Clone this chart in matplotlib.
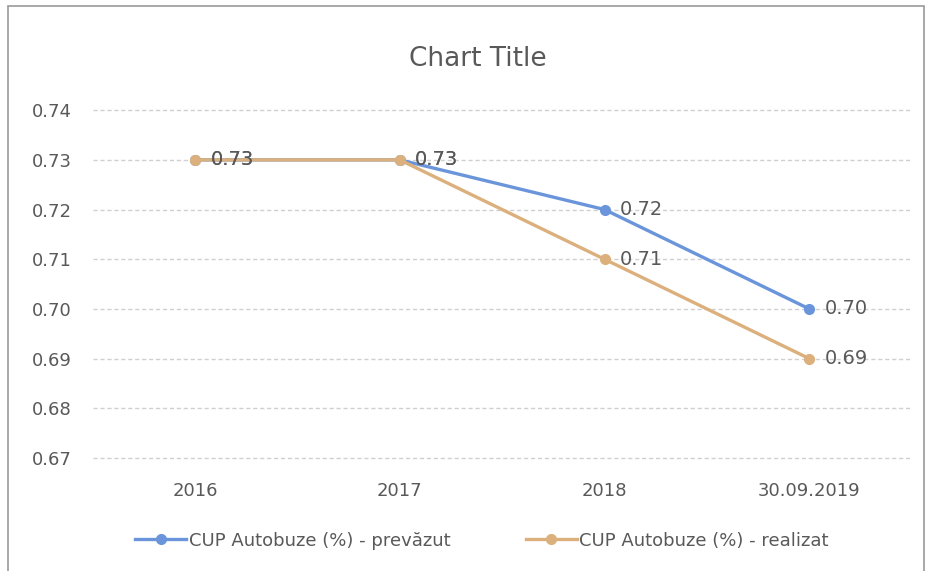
import matplotlib.pyplot as plt
from matplotlib.patches import Rectangle

categories = ["2016", "2017", "2018", "30.09.2019"]
prevazut = [0.73, 0.73, 0.72, 0.70]
realizat = [0.73, 0.73, 0.71, 0.69]
y_ticks = [0.67, 0.68, 0.69, 0.70, 0.71, 0.72, 0.73, 0.74]

BLUE = "#6a95da"
TAN = "#dcb07c"
GRAY = "#595959"

plt.rcParams["font.family"] = ["DejaVu Sans"]

fig = plt.figure(figsize=(9.36, 5.71), dpi=100)
fig.patches.append(Rectangle((8 / 936, -0.01), 916 / 936, 1.0, transform=fig.transFigure,
                             fill=False, edgecolor="#9a9a9a", linewidth=1.2))
ax = fig.add_axes([0.099, 0.198, 0.875, 0.609])

x = list(range(len(categories)))
ax.plot(x, prevazut, color=BLUE, linewidth=2.4, marker="o", markersize=7,
        label="CUP Autobuze (%) - prevăzut", zorder=3)
ax.plot(x, realizat, color=TAN, linewidth=2.4, marker="o", markersize=7,
        label="CUP Autobuze (%) - realizat", zorder=4)

for xi, v in zip(x, prevazut):
    ax.annotate(f"{v:.2f}", (xi, v), xytext=(11, 0), textcoords="offset points",
                va="center", ha="left", fontsize=14, color=GRAY, zorder=5)
for xi, v in zip(x, realizat):
    ax.annotate(f"{v:.2f}", (xi, v), xytext=(11, 0), textcoords="offset points",
                va="center", ha="left", fontsize=14, color=GRAY, zorder=5)

ax.set_xlim(-0.5, len(categories) - 0.5)
ax.set_ylim(0.67, 0.74)
ax.set_yticks(y_ticks)
ax.set_yticklabels([f"{t:.2f}" for t in y_ticks])
ax.set_xticks(x)
ax.set_xticklabels(categories)
ax.tick_params(axis="both", length=0, labelsize=13, labelcolor=GRAY)
ax.tick_params(axis="x", pad=17)
ax.tick_params(axis="y", pad=15)
ax.grid(axis="y", color="#d0d0d0", linestyle=(0, (3, 2)), linewidth=1)
for gl in ax.get_ygridlines():
    gl.set_clip_on(False)
for s in ax.spines.values():
    s.set_visible(False)

fig.text(0.51, 0.897, "Chart Title", ha="center", va="center", fontsize=19, color=GRAY)
fig.legend(loc="center", bbox_to_anchor=(0.515, 0.053), ncol=2, frameon=False,
           fontsize=13, labelcolor=GRAY, handlelength=2.8, handletextpad=0.15,
           columnspacing=4.2)

fig.savefig("out.png", dpi=100)
